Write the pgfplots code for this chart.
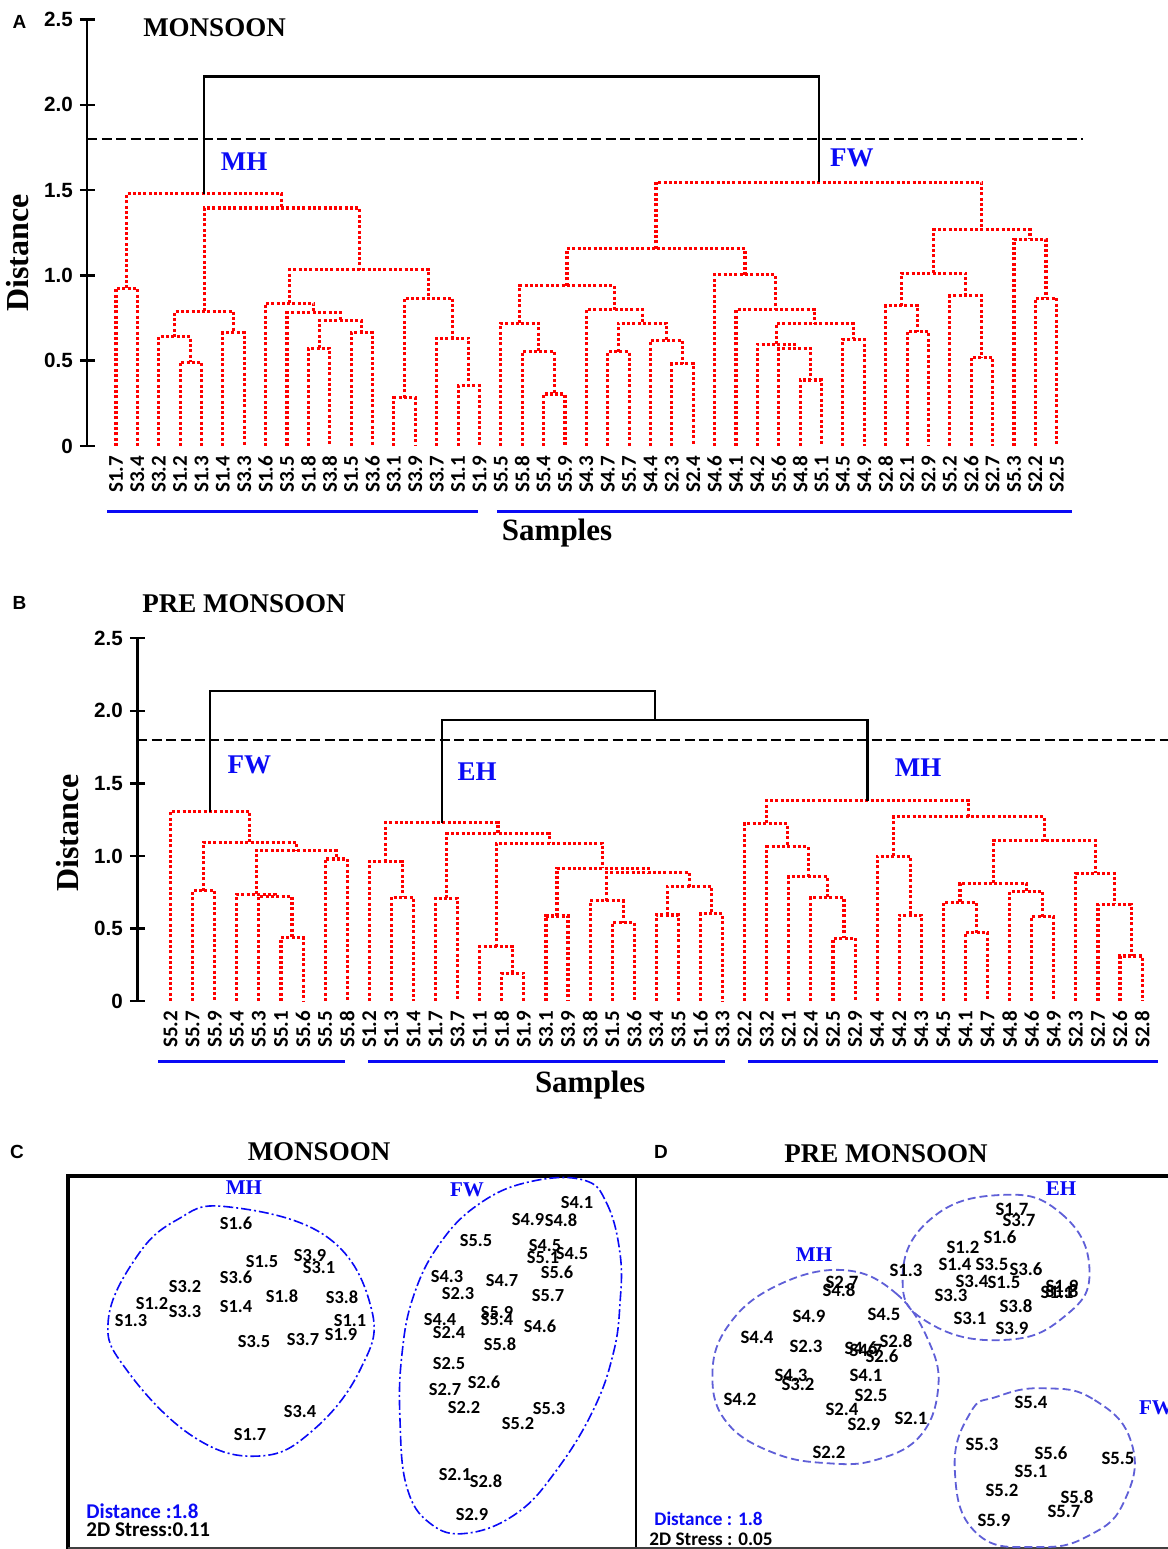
\documentclass[border=0pt]{standalone}
\usepackage{fontspec}
\setmainfont{Liberation Serif}
\newfontfamily\lsans{Liberation Sans}
\newfontfamily\cali{Carlito}
\usepackage{pgfplots}
\pgfplotsset{compat=1.18}
\definecolor{gblue}{RGB}{10,10,245}
\definecolor{dblue}{RGB}{95,95,215}
\tikzset{
  den/.style={draw=red, mark=none, line width=1.55pt, dash pattern=on 1.5pt off 1.15pt},
  blk/.style={draw=black, mark=none, line width=1.15pt},
  dsh/.style={draw=black, mark=none, line width=1.25pt, dash pattern=on 5pt off 2.2pt},
  uline/.style={draw=gblue, mark=none, line width=1.5pt},
  grp/.style={text=gblue, font=\bfseries\fontsize{13.5}{15}\selectfont},
  smp/.style={font=\bfseries\fontsize{15.5}{17}\selectfont},
}
\pgfplotsset{
  dendro/.style={
    anchor=south west, clip=false,
    axis x line=bottom, axis y line=left,
    axis line style={-, line width=1.2pt},
    x axis line style={draw=none},
    xtick={0,...,44}, xtick style={draw=none},
    xticklabel style={rotate=90, anchor=east, inner sep=1pt,
      font=\cali\bfseries\fontsize{10.5}{12}\selectfont},
    ytick={0,0.5,1,1.5,2,2.5}, yticklabels={0,0.5,1.0,1.5,2.0,2.5},
    ytick style={line width=1.2pt, black},
    tick align=center, major tick length=7.5pt,
    yticklabel style={font=\lsans\bfseries\fontsize{10.3}{12}\selectfont},
    /pgf/number format/assume math mode=true,
    ymin=0, ymax=2.5,
  },
  lab/.style={draw=none, mark=none, nodes near coords, point meta=explicit symbolic,
    every node near coord/.append style={anchor=center, inner sep=0pt, text=black,
      font=\cali\bfseries\fontsize{#1}{10}\selectfont}},
}
\begin{document}
\begin{tikzpicture}
\useasboundingbox (0,0) rectangle (584pt,774.5pt);

% ---------------- Panel A ----------------
\begin{axis}[dendro, at={(43.65pt,551.5pt)}, x=10.69pt, y=85.3pt,
  xmin=-1.342, xmax=45.23,
  xticklabels={S1.7,S3.4,S3.2,S1.2,S1.3,S1.4,S3.3,S1.6,S3.5,S1.8,S3.8,S1.5,S3.6,S3.1,S3.9,S3.7,S1.1,S1.9,S5.5,S5.8,S5.4,S5.9,S4.3,S4.7,S5.7,S4.4,S2.3,S2.4,S4.6,S4.1,S4.2,S5.6,S4.8,S5.1,S4.5,S4.9,S2.8,S2.1,S2.9,S5.2,S2.6,S2.7,S5.3,S2.2,S2.5}]
% MH cluster
\addplot[den] coordinates {(0,0)(0,0.925)(1,0.925)(1,0)};
\addplot[den] coordinates {(3,0)(3,0.49)(4,0.49)(4,0)};
\addplot[den] coordinates {(2,0)(2,0.64)(3.5,0.64)(3.5,0.49)};
\addplot[den] coordinates {(5,0)(5,0.665)(6,0.665)(6,0)};
\addplot[den] coordinates {(2.75,0.64)(2.75,0.79)(5.5,0.79)(5.5,0.665)};
\addplot[den] coordinates {(9,0)(9,0.573)(10,0.573)(10,0)};
\addplot[den] coordinates {(11,0)(11,0.665)(12,0.665)(12,0)};
\addplot[den] coordinates {(9.5,0.573)(9.5,0.733)(11.5,0.733)(11.5,0.665)};
\addplot[den] coordinates {(8,0)(8,0.782)(10.5,0.782)(10.5,0.733)};
\addplot[den] coordinates {(7,0)(7,0.837)(9.25,0.837)(9.25,0.782)};
\addplot[den] coordinates {(13,0)(13,0.283)(14,0.283)(14,0)};
\addplot[den] coordinates {(16,0)(16,0.352)(17,0.352)(17,0)};
\addplot[den] coordinates {(15,0)(15,0.632)(16.5,0.632)(16.5,0.352)};
\addplot[den] coordinates {(13.5,0.283)(13.5,0.867)(15.75,0.867)(15.75,0.632)};
\addplot[den] coordinates {(8.125,0.837)(8.125,1.033)(14.625,1.033)(14.625,0.867)};
\addplot[den] coordinates {(4.125,0.79)(4.125,1.395)(11.375,1.395)(11.375,1.033)};
\addplot[den] coordinates {(0.5,0.925)(0.5,1.479)(7.75,1.479)(7.75,1.395)};
% FW cluster
\addplot[den] coordinates {(20,0)(20,0.305)(21,0.305)(21,0)};
\addplot[den] coordinates {(19,0)(19,0.553)(20.5,0.553)(20.5,0.305)};
\addplot[den] coordinates {(18,0)(18,0.72)(19.75,0.72)(19.75,0.553)};
\addplot[den] coordinates {(23,0)(23,0.553)(24,0.553)(24,0)};
\addplot[den] coordinates {(26,0)(26,0.481)(27,0.481)(27,0)};
\addplot[den] coordinates {(25,0)(25,0.618)(26.5,0.618)(26.5,0.481)};
\addplot[den] coordinates {(23.5,0.553)(23.5,0.72)(25.75,0.72)(25.75,0.618)};
\addplot[den] coordinates {(22,0)(22,0.798)(24.625,0.798)(24.625,0.72)};
\addplot[den] coordinates {(18.875,0.72)(18.875,0.939)(23.3125,0.939)(23.3125,0.798)};
\addplot[den] coordinates {(32,0)(32,0.387)(33,0.387)(33,0)};
\addplot[den] coordinates {(31,0)(31,0.569)(32.5,0.569)(32.5,0.387)};
\addplot[den] coordinates {(30,0)(30,0.597)(31.75,0.597)(31.75,0.569)};
\addplot[den] coordinates {(34,0)(34,0.626)(35,0.626)(35,0)};
\addplot[den] coordinates {(30.875,0.597)(30.875,0.716)(34.5,0.716)(34.5,0.626)};
\addplot[den] coordinates {(29,0)(29,0.798)(32.6875,0.798)(32.6875,0.716)};
\addplot[den] coordinates {(28,0)(28,1.003)(30.84375,1.003)(30.84375,0.798)};
\addplot[den] coordinates {(21.09375,0.939)(21.09375,1.156)(29.421875,1.156)(29.421875,1.003)};
\addplot[den] coordinates {(37,0)(37,0.671)(38,0.671)(38,0)};
\addplot[den] coordinates {(36,0)(36,0.822)(37.5,0.822)(37.5,0.671)};
\addplot[den] coordinates {(40,0)(40,0.518)(41,0.518)(41,0)};
\addplot[den] coordinates {(39,0)(39,0.88)(40.5,0.88)(40.5,0.518)};
\addplot[den] coordinates {(36.75,0.822)(36.75,1.013)(39.75,1.013)(39.75,0.88)};
\addplot[den] coordinates {(43,0)(43,0.867)(44,0.867)(44,0)};
\addplot[den] coordinates {(42,0)(42,1.213)(43.5,1.213)(43.5,0.867)};
\addplot[den] coordinates {(38.25,1.013)(38.25,1.268)(42.75,1.268)(42.75,1.213)};
\addplot[den] coordinates {(25.2578,1.156)(25.2578,1.547)(40.5,1.547)(40.5,1.268)};
% top link, cut line, group bars
\addplot[blk] coordinates {(4.125,1.479)(4.125,2.166)(32.879,2.166)(32.879,1.547)};
\addplot[dsh] coordinates {(-1.342,1.8)(45.23,1.8)};
\addplot[uline] coordinates {(-0.42,-0.385)(16.93,-0.385)};
\addplot[uline] coordinates {(17.82,-0.385)(44.71,-0.385)};
\node[grp] at (axis cs:5.99,1.668) {MH};
\node[grp] at (axis cs:34.42,1.688) {FW};
\node[smp] at (axis cs:20.63,-0.51) {Samples};
\end{axis}

% ---------------- Panel B ----------------
\begin{axis}[dendro, at={(68.65pt,274pt)}, x=11.04pt, y=72.54pt,
  xmin=-1.508, xmax=45.17,
  xticklabels={S5.2,S5.7,S5.9,S5.4,S5.3,S5.1,S5.6,S5.5,S5.8,S1.2,S1.3,S1.4,S1.7,S3.7,S1.1,S1.8,S1.9,S3.1,S3.9,S3.8,S1.5,S3.6,S3.4,S3.5,S1.6,S3.3,S2.2,S3.2,S2.1,S2.4,S2.5,S2.9,S4.4,S4.2,S4.3,S4.5,S4.1,S4.7,S4.8,S4.6,S4.9,S2.3,S2.7,S2.6,S2.8}]
% FW cluster
\addplot[den] coordinates {(1,0)(1,0.759)(2,0.759)(2,0)};
\addplot[den] coordinates {(5,0)(5,0.437)(6,0.437)(6,0)};
\addplot[den] coordinates {(4,0)(4,0.72)(5.5,0.72)(5.5,0.437)};
\addplot[den] coordinates {(3,0)(3,0.736)(4.75,0.736)(4.75,0.72)};
\addplot[den] coordinates {(7,0)(7,0.979)(8,0.979)(8,0)};
\addplot[den] coordinates {(3.875,0.736)(3.875,1.037)(7.5,1.037)(7.5,0.979)};
\addplot[den] coordinates {(1.5,0.759)(1.5,1.094)(5.6875,1.094)(5.6875,1.037)};
\addplot[den] coordinates {(0,0)(0,1.306)(3.59375,1.306)(3.59375,1.094)};
% EH cluster
\addplot[den] coordinates {(10,0)(10,0.715)(11,0.715)(11,0)};
\addplot[den] coordinates {(9,0)(9,0.961)(10.5,0.961)(10.5,0.715)};
\addplot[den] coordinates {(12,0)(12,0.708)(13,0.708)(13,0)};
\addplot[den] coordinates {(15,0)(15,0.191)(16,0.191)(16,0)};
\addplot[den] coordinates {(14,0)(14,0.375)(15.5,0.375)(15.5,0.191)};
\addplot[den] coordinates {(17,0)(17,0.586)(18,0.586)(18,0)};
\addplot[den] coordinates {(20,0)(20,0.54)(21,0.54)(21,0)};
\addplot[den] coordinates {(19,0)(19,0.692)(20.5,0.692)(20.5,0.54)};
\addplot[den] coordinates {(22,0)(22,0.593)(23,0.593)(23,0)};
\addplot[den] coordinates {(24,0)(24,0.6)(25,0.6)(25,0)};
\addplot[den] coordinates {(22.5,0.593)(22.5,0.789)(24.5,0.789)(24.5,0.6)};
\addplot[den] coordinates {(19.75,0.692)(19.75,0.885)(23.5,0.885)(23.5,0.789)};
\addplot[den] coordinates {(17.5,0.586)(17.5,0.915)(21.625,0.915)(21.625,0.885)};
\addplot[den] coordinates {(14.75,0.375)(14.75,1.087)(19.5625,1.087)(19.5625,0.915)};
\addplot[den] coordinates {(12.5,0.708)(12.5,1.152)(17.15625,1.152)(17.15625,1.087)};
\addplot[den] coordinates {(9.75,0.961)(9.75,1.23)(14.828125,1.23)(14.828125,1.152)};
% MH cluster
\addplot[den] coordinates {(30,0)(30,0.432)(31,0.432)(31,0)};
\addplot[den] coordinates {(29,0)(29,0.714)(30.5,0.714)(30.5,0.432)};
\addplot[den] coordinates {(28,0)(28,0.856)(29.75,0.856)(29.75,0.714)};
\addplot[den] coordinates {(27,0)(27,1.063)(28.875,1.063)(28.875,0.856)};
\addplot[den] coordinates {(26,0)(26,1.224)(27.9375,1.224)(27.9375,1.063)};
\addplot[den] coordinates {(33,0)(33,0.592)(34,0.592)(34,0)};
\addplot[den] coordinates {(32,0)(32,0.999)(33.5,0.999)(33.5,0.592)};
\addplot[den] coordinates {(36,0)(36,0.471)(37,0.471)(37,0)};
\addplot[den] coordinates {(35,0)(35,0.68)(36.5,0.68)(36.5,0.471)};
\addplot[den] coordinates {(39,0)(39,0.581)(40,0.581)(40,0)};
\addplot[den] coordinates {(38,0)(38,0.753)(39.5,0.753)(39.5,0.581)};
\addplot[den] coordinates {(35.75,0.68)(35.75,0.81)(38.75,0.81)(38.75,0.753)};
\addplot[den] coordinates {(43,0)(43,0.31)(44,0.31)(44,0)};
\addplot[den] coordinates {(42,0)(42,0.668)(43.5,0.668)(43.5,0.31)};
\addplot[den] coordinates {(41,0)(41,0.879)(42.75,0.879)(42.75,0.668)};
\addplot[den] coordinates {(37.25,0.81)(37.25,1.104)(41.875,1.104)(41.875,0.879)};
\addplot[den] coordinates {(32.75,0.999)(32.75,1.27)(39.5625,1.27)(39.5625,1.104)};
\addplot[den] coordinates {(26.96875,1.224)(26.96875,1.38)(36.15625,1.38)(36.15625,1.27)};
% top links, cut line, group bars
\addplot[blk] coordinates {(12.289,1.23)(12.289,1.935)(31.5625,1.935)(31.5625,1.38)};
\addplot[blk] coordinates {(1.797,1.306)(1.797,2.137)(21.926,2.137)(21.926,1.935)};
\addplot[dsh, line width=1.1pt] coordinates {(-1.508,1.8)(45.17,1.8)};
\addplot[uline] coordinates {(-0.57,-0.414)(7.9,-0.414)};
\addplot[uline] coordinates {(8.94,-0.414)(25.11,-0.414)};
\addplot[uline] coordinates {(26.15,-0.414)(44.72,-0.414)};
\node[grp] at (axis cs:3.57,1.63) {FW};
\node[grp] at (axis cs:13.88,1.578) {EH};
\node[grp] at (axis cs:33.85,1.606) {MH};
\node[smp] at (axis cs:19.0,-0.579) {Samples};
\end{axis}

% ---------------- Panels C and D (and page texts), pixel frame ----------------
\begin{axis}[at={(0pt,0pt)}, anchor=south west, x=0.5pt, y=0.5pt,
  xmin=0, xmax=1168, ymin=-1549, ymax=-1130, hide axis, clip=false]
% panel letters, titles, axis titles of A and B
\node[font=\lsans\bfseries\fontsize{9.5}{11}\selectfont] at (19.5,-22) {A};
\node[font=\bfseries\fontsize{13.5}{15}\selectfont] at (214.5,-27.5) {MONSOON};
\node[font=\bfseries\fontsize{16}{18}\selectfont, rotate=90] at (18,-253) {Distance};
\node[font=\lsans\bfseries\fontsize{9.5}{11}\selectfont] at (19.5,-603) {B};
\node[font=\bfseries\fontsize{13.5}{15}\selectfont] at (244,-604) {PRE MONSOON};
\node[font=\bfseries\fontsize{16}{18}\selectfont, rotate=90] at (68,-833) {Distance};
\node[font=\lsans\bfseries\fontsize{9.5}{11}\selectfont] at (17,-1152) {C};
\node[font=\bfseries\fontsize{13.5}{15}\selectfont] at (319,-1152) {MONSOON};
\node[font=\lsans\bfseries\fontsize{9.5}{11}\selectfont] at (661,-1152) {D};
\node[font=\bfseries\fontsize{13.5}{15}\selectfont] at (886,-1154) {PRE MONSOON};
% frames
\draw[line width=1.6pt] (68,-1549) -- (68,-1176) -- (1168,-1176);
\draw[line width=1.2pt] (636,-1176) -- (636,-1549);
\draw[line width=1pt, black!75] (68,-1548) -- (1168,-1548);
% C: MH
\draw[gblue, line width=0.8pt, dash pattern=on 5pt off 1.5pt on 1pt off 1.5pt]
  plot[smooth cycle, tension=0.7] coordinates {(226.7,-1206.7) (326.7,-1236.7) (371.7,-1310) (360,-1370) (313.3,-1430) (260,-1456) (193.3,-1436.7) (126.7,-1370) (108.3,-1320) (136.7,-1256.7) (176.7,-1220)};
\addplot[lab=9.2] table[meta=lab, row sep=\\] {
x y lab\\
236 -1223 S1.6\\ 262 -1262 S1.5\\ 310 -1256 S3.9\\ 319 -1268 S3.1\\
236 -1277 S3.6\\ 185 -1287 S3.2\\ 282 -1296 S1.8\\ 342 -1297 S3.8\\
152 -1304 S1.2\\ 185 -1312 S3.3\\ 236 -1307 S1.4\\ 131 -1321 S1.3\\
350 -1321 S1.1\\ 341 -1335 S1.9\\ 254 -1342 S3.5\\ 303 -1340 S3.7\\
300 -1412 S3.4\\ 250 -1435 S1.7\\
};
% C: FW
\draw[gblue, line width=0.8pt, dash pattern=on 5pt off 1.5pt on 1pt off 1.5pt]
  plot[smooth cycle, tension=0.7] coordinates {(583.3,-1180) (606.7,-1203.3) (620,-1253.3) (620,-1303.3) (613.3,-1353.3) (593.3,-1410) (556.7,-1470) (516.7,-1513.3) (466.7,-1533.3) (430,-1523.3) (406.7,-1486.7) (400,-1420) (401.7,-1356.7) (413.3,-1296.7) (440,-1243.3) (480,-1203.3) (530,-1181.7)};
\addplot[lab=9.2] table[meta=lab, row sep=\\] {
x y lab\\
577 -1203 S4.1\\ 528 -1220 S4.9\\ 561 -1220 S4.8\\ 476 -1241 S5.5\\
545 -1246 S4.5\\ 543 -1258 S5.1\\ 572 -1254 S4.5\\ 557 -1272 S5.6\\
447 -1277 S4.3\\ 502 -1281 S4.7\\ 458 -1294 S2.3\\ 548 -1296 S5.7\\
497 -1313 S5.9\\ 497 -1320 S5.4\\ 440 -1320 S4.4\\ 449 -1333 S2.4\\
540 -1326 S4.6\\ 500 -1344 S5.8\\ 449 -1364 S2.5\\ 484 -1382 S2.6\\
445 -1390 S2.7\\ 464 -1408 S2.2\\ 549 -1409 S5.3\\ 518 -1424 S5.2\\
455 -1475 S2.1\\ 486 -1481 S2.8\\ 472 -1515 S2.9\\
};
\node[text=gblue, font=\bfseries\fontsize{10.5}{12}\selectfont] at (244,-1188) {MH};
\node[text=gblue, font=\bfseries\fontsize{10.5}{12}\selectfont] at (467,-1190) {FW};
\node[anchor=west, inner sep=0pt, text=gblue, font=\cali\bfseries\fontsize{10.5}{12}\selectfont] at (86,-1511) {Distance :1.8};
\node[anchor=west, inner sep=0pt, font=\cali\bfseries\fontsize{10.5}{12}\selectfont] at (86,-1530) {2D Stress:0.11};
% D: EH
\draw[dblue, line width=0.9pt, dash pattern=on 4pt off 2pt]
  plot[smooth cycle, tension=0.8] coordinates {(1000.3,-1195) (1060.9,-1213.3) (1089.5,-1270) (1064.2,-1316.7) (1003.6,-1340) (929.6,-1323.3) (902.6,-1280) (929.6,-1220)};
\addplot[lab=9.4] table[meta=lab, row sep=\\] {
x y lab\\
1012 -1209 S1.7\\ 1019 -1220 S3.7\\ 1000 -1237 S1.6\\ 963 -1247 S1.2\\
955 -1264 S1.4\\ 992 -1264 S3.5\\ 1026 -1269 S3.6\\ 972 -1281 S3.4\\
1004 -1282 S1.5\\ 1062 -1286 S1.9\\ 1057 -1292 S1.1\\ 1062 -1291 S1.8\\
951 -1295 S3.3\\ 1016 -1306 S3.8\\ 970 -1318 S3.1\\ 1012 -1328 S3.9\\
906 -1270 S1.3\\
};
% D: MH
\draw[dblue, line width=0.9pt, dash pattern=on 4pt off 2pt]
  plot[smooth cycle, tension=0.7] coordinates {(842,-1270) (895.9,-1293.3) (929.6,-1343.3) (938,-1390) (919.5,-1436.7) (875.7,-1460) (828.6,-1463.3) (774.7,-1453.3) (727.5,-1423.3) (712.4,-1376.7) (727.5,-1326.7) (774.7,-1286.7)};
\addplot[lab=9.4] table[meta=lab, row sep=\\] {
x y lab\\
842 -1282 S2.7\\ 839 -1290 S4.8\\ 809 -1316 S4.9\\ 884 -1314 S4.5\\
757 -1337 S4.4\\ 806 -1346 S2.3\\ 896 -1341 S2.8\\ 861 -1348 S4.6\\
866 -1350 S4.7\\ 882 -1356 S2.6\\ 866 -1375 S4.1\\ 791 -1375 S4.3\\
798 -1384 S3.2\\ 740 -1399 S4.2\\ 871 -1395 S2.5\\ 842 -1409 S2.4\\
864 -1424 S2.9\\ 911 -1418 S2.1\\ 829 -1452 S2.2\\
};
% D: FW
\draw[dblue, line width=0.9pt, dash pattern=on 4pt off 2pt]
  plot[smooth cycle, tension=0.8] coordinates {(1044,-1388.3) (1094.5,-1400) (1131.6,-1443.3) (1124.8,-1500) (1090,-1535) (1037.3,-1547) (976.7,-1533.3) (954.8,-1470) (970,-1413.3) (996.9,-1396.7)};
\addplot[lab=9.4] table[meta=lab, row sep=\\] {
x y lab\\
1031 -1402 S5.4\\ 982 -1444 S5.3\\ 1051 -1453 S5.6\\ 1118 -1458 S5.5\\
1031 -1471 S5.1\\ 1002 -1490 S5.2\\ 1077 -1497 S5.8\\ 1064 -1511 S5.7\\
994 -1520 S5.9\\
};
\node[text=gblue, font=\bfseries\fontsize{10.5}{12}\selectfont] at (1061,-1189) {EH};
\node[text=gblue, font=\bfseries\fontsize{10.5}{12}\selectfont] at (814,-1255) {MH};
\node[text=gblue, font=\bfseries\fontsize{10.5}{12}\selectfont] at (1156,-1408) {FW};
\node[anchor=west, inner sep=0pt, text=gblue, font=\cali\bfseries\fontsize{9.6}{11}\selectfont] at (654,-1519) {Distance : 1.8};
\node[anchor=west, inner sep=0pt, font=\cali\bfseries\fontsize{9.6}{11}\selectfont] at (649,-1539) {2D Stress : 0.05};
\end{axis}
\end{tikzpicture}
\end{document}
